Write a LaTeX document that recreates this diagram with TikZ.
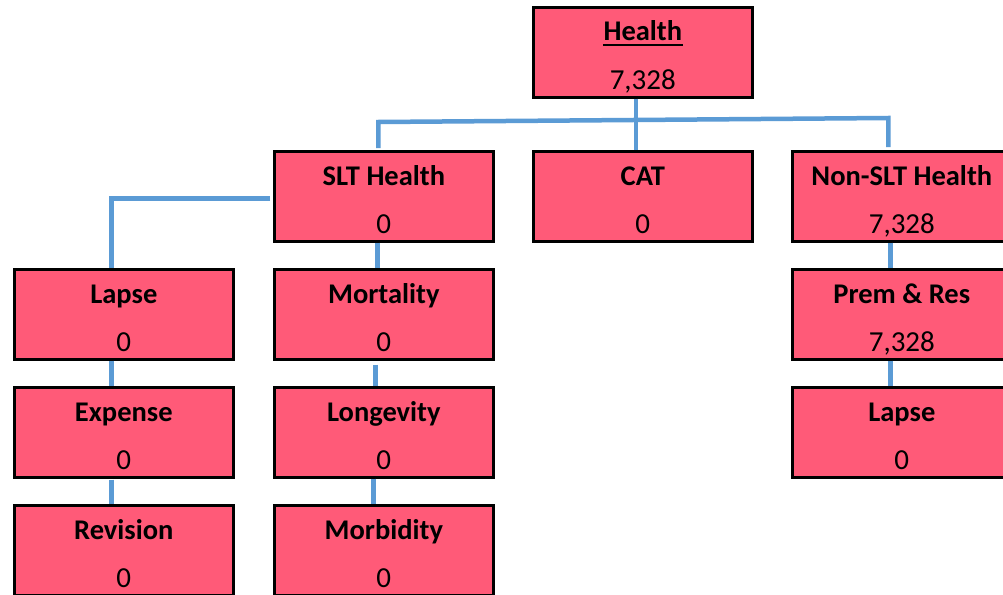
\documentclass[tikz,border=0pt]{standalone}
\usepackage{fontspec}
\setmainfont{Carlito}
\definecolor{boxred}{HTML}{FF5A78}
\definecolor{linkblue}{HTML}{5B9BD5}
\newcommand\tbox[5]{%
  \node[box] (#1) at (#2,#3) {};
  \node[ttl] (#1t) at ([yshift=-35pt]#1.north) {#4};
  \node[val] (#1v) at ([yshift=-83.5pt]#1.north) {#5};}
\begin{document}
\begin{tikzpicture}[x=1pt,y=-1pt,
  box/.style={draw=black,line width=2.6pt,fill=boxred,minimum width=219pt,minimum height=90pt,inner sep=0pt,anchor=north west},
  ttl/.style={font=\fontsize{28.5}{32}\selectfont\bfseries,anchor=base,inner sep=0pt},
  val/.style={font=\fontsize{29}{32}\selectfont,anchor=base,inner sep=0pt},
  link/.style={draw=linkblue,line width=4.5pt}]
\useasboundingbox (0,0) rectangle (1003,594);
\clip (0,0) rectangle (1003,594);
\fill[white] (0,0) rectangle (1003,594);
\tbox{health}{532}{6}{Health}{7,328}
\draw[line width=2pt] ([xshift=-0.5pt,yshift=-4pt]healtht.base west) -- ([xshift=0.5pt,yshift=-4pt]healtht.base east);
\tbox{slt}{273}{150}{SLT Health}{0}
\tbox{cat}{532}{150}{CAT}{0}
\tbox{nonslt}{791}{150}{Non-SLT Health}{7,328}
\tbox{lapseA}{13}{268}{Lapse}{0}
\tbox{mort}{273}{268}{Mortality}{0}
\tbox{prem}{791}{268}{Prem \& Res}{7,328}
\tbox{exp}{13}{386}{Expense}{0}
\tbox{long}{273}{386}{Longevity}{0}
\tbox{lapseB}{791}{386}{Lapse}{0}
\tbox{rev}{13}{504}{Revision}{0}
\tbox{morb}{273}{504}{Morbidity}{0}
% links
\draw[link] ([xshift=-7pt]health.south) -- ([xshift=-7pt]cat.north);
\draw[link] ([xshift=-5.5pt,yshift=2pt]slt.north) -- ([xshift=-5.5pt,yshift=28pt]slt.north)
  -- ([xshift=-13.5pt,yshift=32pt]nonslt.north) -- ([xshift=-13.5pt,yshift=3pt]nonslt.north);
\draw[link] ([xshift=-3pt,yshift=-2pt]slt.west) -| ([xshift=-12.5pt]lapseA.north);
\draw[link] ([xshift=-12.5pt]lapseA.south) -- ([xshift=-12.5pt]exp.north);
\draw[link] ([xshift=-12.5pt,yshift=-1pt]exp.south) -- ([xshift=-12.5pt]rev.north);
\draw[link] ([xshift=-6.5pt]slt.south) -- ([xshift=-6.5pt]mort.north);
\draw[link] ([xshift=-8.5pt,yshift=-4pt]mort.south) -- ([xshift=-8.5pt]long.north);
\draw[link] ([xshift=-10.5pt]long.south) -- ([xshift=-10.5pt]morb.north);
\draw[link] ([xshift=-11.5pt]nonslt.south) -- ([xshift=-11.5pt]prem.north);
\draw[link] ([xshift=-11.5pt]prem.south) -- ([xshift=-11.5pt]lapseB.north);
\end{tikzpicture}
\end{document}
